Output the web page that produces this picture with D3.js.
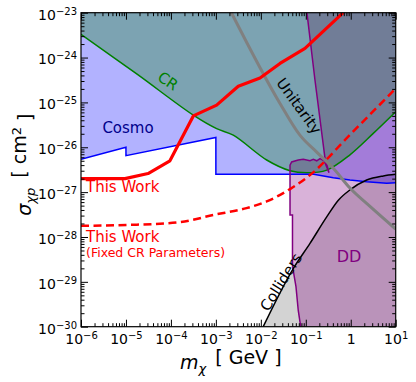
<!DOCTYPE html>
<html>
<head>
<meta charset="utf-8">
<script src="https://cdn.jsdelivr.net/npm/d3@7"></script>
<style>
body { margin: 0; background: #fff; }
svg { display: block; font-family: "DejaVu Sans", sans-serif; }
</style>
</head>
<body>
<script>
// ---- data: [mass GeV, cross section cm^2] ----
const xMajor = [1e-6, 1e-5, 1e-4, 1e-3, 1e-2, 1e-1, 1, 10];
const xMajorLabels = [["10", "−6"], ["10", "−5"], ["10", "−4"], ["10", "−3"], ["10", "−2"], ["10", "−1"], ["1", ""], ["10", "1"]];
const yMajor = [1e-30, 1e-29, 1e-28, 1e-27, 1e-26, 1e-25, 1e-24, 1e-23];
const yMajorLabels = [["10", "−30"], ["10", "−29"], ["10", "−28"], ["10", "−27"], ["10", "−26"], ["10", "−25"], ["10", "−24"], ["10", "−23"]];

const crLine = [[1e-6, 3.3e-24], [1.8e-5, 4.2e-25], [3.15e-4, 5.2e-26], [1.04e-3, 2.6e-26], [2.44e-3, 1.86e-26],
  [1.35e-2, 5.2e-27], [4.46e-2, 3.0e-27], [0.105, 2.7e-27], [0.292, 3.1e-27], [0.96, 6.8e-27], [3.17, 2.04e-26], [10, 6.2e-26]];
const cosmoLine = [[1e-6, 5.4e-27], [1e-5, 1.0e-26], [1e-5, 6.5e-27], [1e-3, 1.66e-26], [1e-3, 2.5e-27],
  [0.15, 2.5e-27], [0.41, 2.1e-27], [0.96, 1.86e-27], [2.26, 1.7e-27], [6.3, 1.58e-27], [10, 1.62e-27]];
const ddEdge = [[0.106, 1e-23], [0.16, 3.16e-25], [0.267, 5.75e-27], [0.328, 2.7e-27], [0.257, 5.0e-27], [0.207, 5.6e-27],
  [0.175, 5.0e-27], [0.147, 5.4e-27], [0.124, 5.0e-27], [0.088, 5.4e-27], [0.068, 5.2e-27], [0.0485, 4.7e-27],
  [0.0446, 4.0e-27], [0.0446, 3.1e-28], [0.0506, 3.1e-28], [0.0506, 2.24e-29], [0.0605, 7.8e-30], [0.068, 2.3e-30], [0.077, 1e-30]];
const colliderLine = [[1.13e-2, 1e-30], [5.3e-2, 2.0e-29], [0.124, 7.2e-29], [0.292, 2.8e-28], [0.53, 6.6e-28],
  [0.96, 1.12e-27], [2.26, 1.86e-27], [5.3, 2.3e-27], [10, 2.5e-27]];
const unitarityLine = [[2.22e-3, 1e-23], [2.67e-2, 9.5e-26], [7.4e-2, 1.86e-26], [0.175, 7.8e-27], [0.41, 3.4e-27],
  [0.96, 1.23e-27], [2.68, 4.8e-28], [10, 1.5e-28]];
const thisWork = [[1e-6, 2.0e-27], [9.5e-6, 2.0e-27], [3.1e-5, 2.6e-27], [9.5e-5, 5.0e-27], [3.15e-4, 5.0e-26],
  [1.04e-3, 8.7e-26], [3.15e-3, 2.3e-25], [9.6e-3, 3.5e-25], [2.67e-2, 7.4e-25], [9.6e-2, 1.6e-24], [0.68, 1e-23]];
const thisWorkFixed = [[1e-6, 1.78e-28], [1.23e-5, 1.86e-28], [1.6e-4, 2.14e-28], [8.8e-4, 3.1e-28], [4.8e-3, 4.4e-28],
  [1.35e-2, 6.2e-28], [4.46e-2, 1.17e-27], [0.124, 2.4e-27], [0.96, 1.9e-26], [10, 2.04e-25]];

// ---- layout ----
const W = 416, H = 382;
const plot = { left: 81, top: 12.7, right: 395.7, bottom: 326.7 };

const x = d3.scaleLog().domain([1e-6, 10]).range([plot.left, plot.right]);
const y = d3.scaleLog().domain([1e-30, 1e-23]).range([plot.bottom, plot.top]);
const [xMin, xMax] = x.domain();
const [yMin, yMax] = y.domain();

const svg = d3.select("body").append("svg").attr("width", W).attr("height", H);

svg.append("defs").append("clipPath").attr("id", "plotClip")
  .append("rect")
  .attr("x", plot.left).attr("y", plot.top)
  .attr("width", plot.right - plot.left).attr("height", plot.bottom - plot.top);

const regions = svg.append("g").attr("clip-path", "url(#plotClip)");
const curves = svg.append("g").attr("clip-path", "url(#plotClip)");

const line = (curve) => d3.line().x(d => x(d[0])).y(d => y(d[1])).curve(curve);
const areaBelow = (curve) => d3.area().x(d => x(d[0])).y0(y(yMin)).y1(d => y(d[1])).curve(curve);
const areaAbove = (curve) => d3.area().x(d => x(d[0])).y0(y(yMax)).y1(d => y(d[1])).curve(curve);

// filled regions
regions.append("path").datum(colliderLine)
  .attr("d", areaBelow(d3.curveMonotoneX))
  .attr("fill", "#d3d3d3");

regions.append("path").datum(cosmoLine)
  .attr("d", areaAbove(d3.curveLinear))
  .attr("fill", "blue").attr("fill-opacity", 0.3);

regions.append("path").datum(ddEdge.concat([[xMax, yMin], [xMax, yMax]]))
  .attr("d", line(d3.curveLinearClosed))
  .attr("fill", "purple").attr("fill-opacity", 0.3);

regions.append("path").datum(crLine)
  .attr("d", areaAbove(d3.curveCatmullRom))
  .attr("fill", "green").attr("fill-opacity", 0.3);

// boundary lines
curves.append("path").datum(crLine)
  .attr("d", line(d3.curveCatmullRom))
  .attr("fill", "none").attr("stroke", "green").attr("stroke-width", 1.5);

curves.append("path").datum(cosmoLine)
  .attr("d", line(d3.curveLinear))
  .attr("fill", "none").attr("stroke", "blue").attr("stroke-width", 1.5);

curves.append("path").datum(ddEdge)
  .attr("d", line(d3.curveLinear))
  .attr("fill", "none").attr("stroke", "purple").attr("stroke-width", 1.5);

curves.append("path").datum(colliderLine)
  .attr("d", line(d3.curveMonotoneX))
  .attr("fill", "none").attr("stroke", "black").attr("stroke-width", 1.5);

curves.append("path").datum(unitarityLine)
  .attr("d", line(d3.curveMonotoneX))
  .attr("fill", "none").attr("stroke", "#808080").attr("stroke-width", 3);

curves.append("path").datum(thisWorkFixed)
  .attr("d", line(d3.curveMonotoneX))
  .attr("fill", "none").attr("stroke", "red").attr("stroke-width", 2.5)
  .attr("stroke-dasharray", "8,4.5");

curves.append("path").datum(thisWork)
  .attr("d", line(d3.curveLinear))
  .attr("fill", "none").attr("stroke", "red").attr("stroke-width", 3.2)
  .attr("stroke-linejoin", "round");

// region labels
function label(txt, cx, cy, angle, color, size) {
  svg.append("text")
    .attr("transform", `translate(${cx},${cy}) rotate(${angle})`)
    .attr("text-anchor", "middle").attr("dy", "0.35em")
    .attr("fill", color).style("font-size", size + "px")
    .text(txt);
}
label("CR", 168, 81, 34, "green", 15);
label("Cosmo", 128, 128, 0, "darkblue", 15);
label("Unitarity", 299, 106, 54, "black", 15);
label("Colliders", 281, 282, -58, "black", 15);
label("DD", 349, 256, 0, "purple", 16);

svg.append("text").attr("x", 86).attr("y", 192)
  .attr("fill", "red").style("font-size", "15px").text("This Work");
svg.append("text").attr("x", 86).attr("y", 242)
  .attr("fill", "red").style("font-size", "15px").text("This Work");
svg.append("text").attr("x", 86).attr("y", 257)
  .attr("fill", "red").style("font-size", "12.5px").text("(Fixed CR Parameters)");

// ---- axes ----
const xMinor = x.ticks().filter(v => !xMajor.some(m => Math.abs(m - v) / m < 1e-6));
const yMinor = y.ticks().filter(v => !yMajor.some(m => Math.abs(m - v) / m < 1e-6));

function styleAxis(g) {
  g.select(".domain").remove();
  g.selectAll(".tick line").attr("stroke", "black").attr("stroke-width", 1);
}

function powerLabels(g, labels) {
  g.selectAll(".tick text").each(function (d, i) {
    const t = d3.select(this).text(null).style("font-size", "14px").attr("fill", "black");
    t.append("tspan").text(labels[i][0]);
    if (labels[i][1]) t.append("tspan").attr("dy", "-0.5em").style("font-size", "10px").text(labels[i][1]);
  });
}

svg.append("g").attr("transform", `translate(0,${plot.bottom})`)
  .call(d3.axisBottom(x).tickValues(xMinor).tickSize(-3.5).tickSizeOuter(0).tickFormat(""))
  .call(styleAxis);
svg.append("g").attr("transform", `translate(0,${plot.bottom})`)
  .call(d3.axisBottom(x).tickValues(xMajor).tickSize(-7).tickSizeOuter(0).tickPadding(7).tickFormat(""))
  .call(styleAxis)
  .call(g => g.attr("font-family", null).attr("font-size", null))
  .call(g => powerLabels(g, xMajorLabels));
svg.append("g").attr("transform", `translate(0,${plot.top})`)
  .call(d3.axisTop(x).tickValues(xMinor).tickSize(-3.5).tickSizeOuter(0).tickFormat(""))
  .call(styleAxis);
svg.append("g").attr("transform", `translate(0,${plot.top})`)
  .call(d3.axisTop(x).tickValues(xMajor).tickSize(-7).tickSizeOuter(0).tickFormat(""))
  .call(styleAxis);

svg.append("g").attr("transform", `translate(${plot.left},0)`)
  .call(d3.axisLeft(y).tickValues(yMinor).tickSize(-3.5).tickSizeOuter(0).tickFormat(""))
  .call(styleAxis);
svg.append("g").attr("transform", `translate(${plot.left},0)`)
  .call(d3.axisLeft(y).tickValues(yMajor).tickSize(-7).tickSizeOuter(0).tickPadding(4).tickFormat(""))
  .call(styleAxis)
  .call(g => g.attr("font-family", null).attr("font-size", null))
  .call(g => g.selectAll(".tick text").attr("dy", "0.45em"))
  .call(g => powerLabels(g, yMajorLabels));
svg.append("g").attr("transform", `translate(${plot.right},0)`)
  .call(d3.axisRight(y).tickValues(yMinor).tickSize(-3.5).tickSizeOuter(0).tickFormat(""))
  .call(styleAxis);
svg.append("g").attr("transform", `translate(${plot.right},0)`)
  .call(d3.axisRight(y).tickValues(yMajor).tickSize(-7).tickSizeOuter(0).tickFormat(""))
  .call(styleAxis);

svg.append("rect")
  .attr("x", plot.left).attr("y", plot.top)
  .attr("width", plot.right - plot.left).attr("height", plot.bottom - plot.top)
  .attr("fill", "none").attr("stroke", "black").attr("stroke-width", 1.2);

// axis titles
const xTitle = svg.append("text")
  .attr("x", 180).attr("y", 369)
  .style("font-size", "19px");
xTitle.append("tspan").style("font-style", "italic").text("m");
xTitle.append("tspan").attr("dy", "0.3em").style("font-size", "13px").style("font-style", "italic").text("χ");
xTitle.append("tspan").attr("dy", "-0.45em").attr("dx", 3).text(" [ GeV ]");

const yTitle = svg.append("text")
  .attr("transform", `translate(31,${(plot.top + plot.bottom) / 2 - 5}) rotate(-90)`)
  .attr("text-anchor", "middle").style("font-size", "19px");
yTitle.append("tspan").style("font-style", "italic").text("σ");
yTitle.append("tspan").attr("dy", "0.3em").style("font-size", "13px").style("font-style", "italic").text("χp");
yTitle.append("tspan").attr("dy", "-0.45em").attr("dx", 4).text(" [ cm");
yTitle.append("tspan").attr("dy", "-0.45em").style("font-size", "13px").text("2");
yTitle.append("tspan").attr("dy", "0.6em").text(" ]");
</script>
</body>
</html>
